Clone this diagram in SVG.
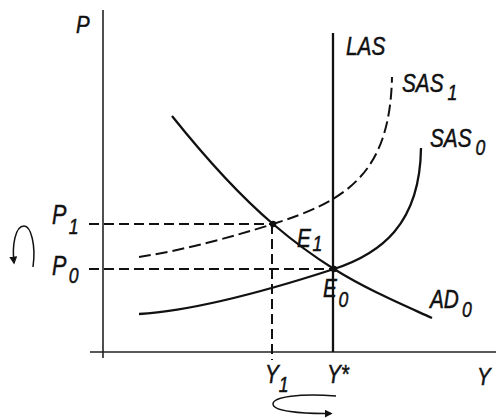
<svg xmlns="http://www.w3.org/2000/svg" width="499" height="418" viewBox="0 0 499 418">
<defs>
<style>
.ax{stroke:#222;stroke-width:1.6;fill:none}
.cv{stroke:#111;stroke-width:2.3;fill:none}
.ds{stroke:#111;stroke-width:2;fill:none;stroke-dasharray:10 5}
.dl{stroke-dasharray:12 5}
.ar{stroke:#111;stroke-width:1.5;fill:none}
text{font-family:"Liberation Sans",Arial,sans-serif;font-style:italic;font-size:26px;fill:#111;stroke:#111;stroke-width:0.5}
.sb{font-size:22px}
.pl{font-size:27px}
.al{font-size:24px}
</style>
<marker id="ah" viewBox="0 0 10 10" refX="8" refY="5" markerWidth="8" markerHeight="8" markerUnits="userSpaceOnUse" orient="auto">
<path d="M0,0 L10,5 L0,10 z" fill="#111"/>
</marker>
</defs>
<rect width="499" height="418" fill="#fff"/>
<g id="axes">
<line class="ax" x1="103" y1="10" x2="103" y2="358"/>
<line class="ax" x1="90" y1="352" x2="496" y2="352"/>
</g>
<g id="connectors">
<line class="ds" x1="89" y1="224" x2="273" y2="224"/>
<line class="ds" x1="89" y1="269" x2="334" y2="269"/>
<line class="ds" x1="272" y1="224" x2="272" y2="360"/>
<path class="ar" d="M33,267 C36,245 31,226 24,226 C15,226 12,246 14,263" marker-end="url(#ah)"/>
<path class="ar" d="M336,396 C300,393 273,397 273,404 C273,411 300,414 331,413.5" marker-end="url(#ah)"/>
</g>
<g id="LAS">
<line class="cv" x1="333" y1="33" x2="333" y2="352"/>
<text transform="translate(346,55) scale(0.8,1)">LAS</text>
</g>
<g id="AD0">
<path class="cv" d="M172,116 C206,158.5 239,195 273,224 C293,241 314,256.6 334,269 C367,289.5 399,303 432,318"/>
<text transform="translate(430,308) scale(0.8,1)">AD<tspan class="sb" dx="4" dy="9">0</tspan></text>
</g>
<g id="SAS0">
<path class="cv" d="M139,314 C205,310 294,282 334,269 C380,254 420,225 421,148"/>
<text transform="translate(430,147) scale(0.8,1)">SAS<tspan class="sb" dx="5" dy="8">0</tspan></text>
</g>
<g id="SAS1">
<path class="ds dl" d="M139,257 C185,250 235,236 273,224 C345,201 390,175 392,77"/>
<text transform="translate(402,92) scale(0.8,1)">SAS<tspan class="sb" dx="5" dy="8">1</tspan></text>
</g>
<g id="E1">
<circle cx="273" cy="224" r="3.2" fill="#111"/>
<text transform="translate(297,247) scale(0.8,1)">E<tspan class="sb" dx="2" dy="4">1</tspan></text>
</g>
<g id="E0">
<circle cx="334" cy="269" r="3.2" fill="#111"/>
<text transform="translate(323,297) scale(0.8,1)">E<tspan class="sb" dx="2" dy="10">0</tspan></text>
</g>
<g id="labels">
<text class="al" transform="translate(76,33) scale(0.85,1)">P</text>
<text class="al" transform="translate(477,385) scale(0.85,1)">Y</text>
<text class="pl" transform="translate(52,224) scale(0.8,1)">P<tspan class="sb" dx="3" dy="10">1</tspan></text>
<text class="pl" transform="translate(52,275) scale(0.8,1)">P<tspan class="sb" dx="3" dy="8">0</tspan></text>
<text transform="translate(265,383) scale(0.8,1)">Y<tspan class="sb" dx="0" dy="9">1</tspan></text>
<text transform="translate(327,383) scale(0.8,1)">Y*</text>
</g>
</svg>
